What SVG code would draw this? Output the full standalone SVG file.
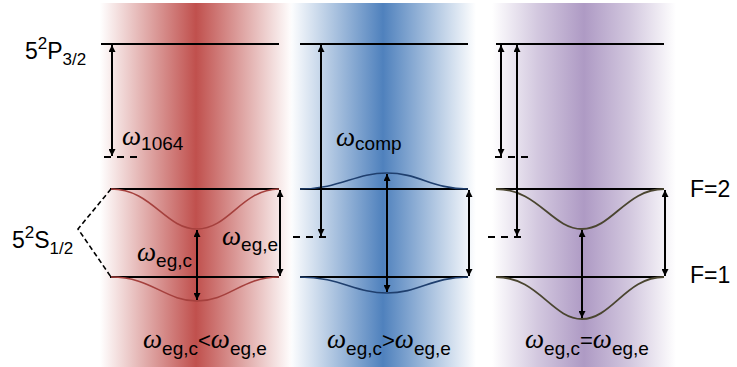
<svg xmlns="http://www.w3.org/2000/svg" width="737" height="367" viewBox="0 0 737 367">
<defs>
<linearGradient id="gr" x1="0" x2="1" y1="0" y2="0">
<stop offset="0" stop-color="#C0504D" stop-opacity="0"/>
<stop offset="0.25" stop-color="#C0504D" stop-opacity="0.5"/>
<stop offset="0.5" stop-color="#C0504D" stop-opacity="1"/>
<stop offset="0.75" stop-color="#C0504D" stop-opacity="0.5"/>
<stop offset="1" stop-color="#C0504D" stop-opacity="0"/>
</linearGradient>
<linearGradient id="gb" x1="0" x2="1" y1="0" y2="0">
<stop offset="0" stop-color="#4F81BD" stop-opacity="0"/>
<stop offset="0.25" stop-color="#4F81BD" stop-opacity="0.5"/>
<stop offset="0.5" stop-color="#4F81BD" stop-opacity="1"/>
<stop offset="0.75" stop-color="#4F81BD" stop-opacity="0.5"/>
<stop offset="1" stop-color="#4F81BD" stop-opacity="0"/>
</linearGradient>
<linearGradient id="gp" x1="0" x2="1" y1="0" y2="0">
<stop offset="0" stop-color="#AE9AC4" stop-opacity="0"/>
<stop offset="0.25" stop-color="#AE9AC4" stop-opacity="0.55"/>
<stop offset="0.5" stop-color="#AE9AC4" stop-opacity="1"/>
<stop offset="0.75" stop-color="#AE9AC4" stop-opacity="0.55"/>
<stop offset="1" stop-color="#AE9AC4" stop-opacity="0"/>
</linearGradient>
<marker id="ah" viewBox="0 0 10 10" refX="10" refY="5" markerWidth="7" markerHeight="7" markerUnits="userSpaceOnUse" orient="auto-start-reverse">
<path d="M0,0 L10,5 L0,10 z" fill="#000"/>
</marker>
<style>
.lvl{stroke:#000;stroke-width:2;fill:none}
.arr{stroke:#000;stroke-width:2;fill:none;marker-start:url(#ah);marker-end:url(#ah)}
.dash{stroke:#000;stroke-width:2;fill:none;stroke-dasharray:7 6}
.cr{stroke:#A5403D;stroke-width:1.6;fill:none}
.cb{stroke:#1F3F6E;stroke-width:1.6;fill:none}
.cp{stroke:#4A4530;stroke-width:1.8;fill:none}
text{font-family:"Liberation Sans",Arial,sans-serif;fill:#000}
.big{font-size:23px}
.ss{font-size:17px}
.w{font-family:"Liberation Serif","Times New Roman",serif;font-style:italic;font-size:27px}
.sub{font-size:19px}
.lab{font-size:22px}
</style>
</defs>
<g id="beams">
<rect x="100" y="3" width="192" height="364" fill="url(#gr)"/>
<rect x="290" y="3" width="186" height="364" fill="url(#gb)"/>
<rect x="492" y="3" width="184" height="364" fill="url(#gp)"/>
</g>
<g id="labels-left">
<text class="big" x="25" y="59">5<tspan class="ss" dy="-10">2</tspan><tspan dy="10">P</tspan><tspan class="ss" dy="6">3/2</tspan></text>
<text class="big" x="12" y="248">5<tspan class="ss" dy="-10">2</tspan><tspan dy="10">S</tspan><tspan class="ss" dy="6">1/2</tspan></text>
<path d="M111,189 L78,229 L111,277" stroke="#000" stroke-width="1.6" fill="none" stroke-dasharray="5 3"/>
</g>
<g id="panel-red">
<line class="lvl" x1="101" y1="44" x2="279" y2="44"/>
<line class="lvl" x1="110" y1="189" x2="279" y2="189"/>
<line class="lvl" x1="110" y1="277" x2="279" y2="277"/>
<path class="cr" d="M111,189 C152,189 165,229 197,229 C229,229 242,189 279,189"/>
<path class="cr" d="M111,277 C152,277 165,301 197,301 C229,301 242,277 279,277"/>
<line class="dash" x1="104" y1="157" x2="140" y2="157"/>
<line class="arr" x1="112" y1="45" x2="112" y2="156"/>
<line class="arr" x1="197" y1="230" x2="197" y2="300"/>
<line class="arr" x1="280" y1="190" x2="280" y2="276"/>
<text x="122" y="145"><tspan class="w">ω</tspan><tspan class="sub" dy="5">1064</tspan></text>
<text x="137" y="261"><tspan class="w">ω</tspan><tspan class="sub" dy="6">eg,c</tspan></text>
<text x="222" y="245"><tspan class="w">ω</tspan><tspan class="sub" dy="6">eg,e</tspan></text>
<text x="143" y="348"><tspan class="w">ω</tspan><tspan class="sub" dy="7">eg,c</tspan><tspan class="lab" dy="-7">&lt;</tspan><tspan class="w">ω</tspan><tspan class="sub" dy="7">eg,e</tspan></text>
</g>
<g id="panel-blue">
<line class="lvl" x1="300" y1="44" x2="468" y2="44"/>
<line class="lvl" x1="300" y1="189" x2="468" y2="189"/>
<line class="lvl" x1="300" y1="277" x2="468" y2="277"/>
<path class="cb" d="M300,189 C340,189 355,173 387,173 C419,173 432,189 468,189"/>
<path class="cb" d="M300,277 C340,277 355,293 387,293 C419,293 432,277 468,277"/>
<line class="dash" x1="293" y1="237" x2="328" y2="237"/>
<line class="arr" x1="321" y1="45" x2="321" y2="236"/>
<line class="arr" x1="387" y1="174" x2="387" y2="292"/>
<line class="arr" x1="469" y1="190" x2="469" y2="276"/>
<text x="336" y="146"><tspan class="w">ω</tspan><tspan class="sub" dy="4">comp</tspan></text>
<text x="327" y="348"><tspan class="w">ω</tspan><tspan class="sub" dy="7">eg,c</tspan><tspan class="lab" dy="-7">&gt;</tspan><tspan class="w">ω</tspan><tspan class="sub" dy="7">eg,e</tspan></text>
</g>
<g id="panel-purple">
<line class="lvl" x1="496" y1="44" x2="664" y2="44"/>
<line class="lvl" x1="496" y1="189" x2="664" y2="189"/>
<line class="lvl" x1="496" y1="277" x2="664" y2="277"/>
<path class="cp" d="M496,189 C538,189 552,229 582,229 C612,229 626,189 664,189"/>
<path class="cp" d="M496,277 C538,277 552,319 582,319 C612,319 626,277 664,277"/>
<line class="dash" x1="495" y1="157" x2="530" y2="157"/>
<line class="dash" x1="488" y1="237" x2="523" y2="237"/>
<line class="arr" x1="501" y1="45" x2="501" y2="156"/>
<line class="arr" x1="517" y1="45" x2="517" y2="236"/>
<line class="arr" x1="582" y1="230" x2="582" y2="318"/>
<line class="arr" x1="665" y1="190" x2="665" y2="276"/>
<text x="525" y="348"><tspan class="w">ω</tspan><tspan class="sub" dy="7">eg,c</tspan><tspan class="lab" dy="-7">=</tspan><tspan class="w">ω</tspan><tspan class="sub" dy="7">eg,e</tspan></text>
<text class="big" x="690" y="197">F=2</text>
<text class="big" x="690" y="283">F=1</text>
</g>
</svg>
